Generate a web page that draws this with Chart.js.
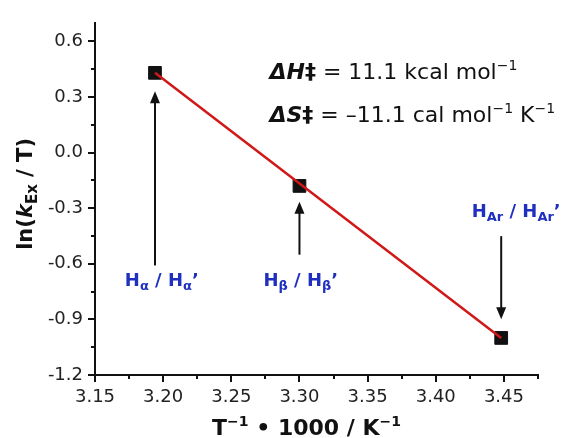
<!DOCTYPE html>
<html><head><meta charset="utf-8">
<script src="https://cdn.jsdelivr.net/npm/chart.js@4.4.1/dist/chart.umd.min.js"></script>
<style>html,body{margin:0;padding:0;background:#fff;}#wrap{width:570px;height:438px;}</style>
</head><body><div id="wrap"><canvas id="c" width="570" height="438"></canvas></div>
<script>
// ---- data ----
const invT = [3.194, 3.300, 3.448];          // T^-1 * 1000 / K^-1
const lnKT = [0.43, -0.18, -1.00];            // ln(kEx / T)
const fitInvT = [3.194, 3.448];               // fitted line ends
const fitLnKT = [0.43, -1.00];
const protonSubs = ['α', 'β', 'Ar'];          // H_x / H_x' labels
const xRange = [3.15, 3.475];
const yRange = [-1.2, 0.7];
const xStep = 0.025, xMajorStep = 0.05;
const yStep = 0.15, yMajorStep = 0.3;
const dH = '11.1', dS = '–11.1';

// ---- annotation placement (data units) ----
const arrowX = [3.194, 3.300, 3.448];
const arrowFrom = [-0.609, -0.551, -0.451];
const arrowTo = [0.331, -0.266, -0.899];
const labelX = [3.199, 3.301, 3.459];
const labelY = [-0.72, -0.72, -0.345];

const FAM = '"DejaVu Sans", "Liberation Sans", sans-serif';
const BLUE = '#1f2fc0';
const RED = '#d01818';
const INK = '#111';

function isMult(v, s) { const r = v / s; return Math.abs(r - Math.round(r)) < 1e-6; }

function drawRich(ctx, x, y, segs, align) {
  let w = 0;
  segs.forEach(s => { ctx.font = s.f; s.w = ctx.measureText(s.t).width; w += s.w; });
  let cx = align === 'center' ? x - w / 2 : x;
  ctx.textBaseline = 'alphabetic';
  ctx.textAlign = 'left';
  segs.forEach(s => { ctx.font = s.f; ctx.fillStyle = s.c || INK; ctx.fillText(s.t, cx, y + (s.dy || 0)); cx += s.w; });
}

const annot = {
  id: 'annot',
  afterDraw(chart) {
    const ctx = chart.ctx, xs = chart.scales.x, ys = chart.scales.y, ca = chart.chartArea;
    ctx.save();
    // tick marks
    ctx.strokeStyle = INK; ctx.lineWidth = 2;
    xs.ticks.forEach(t => {
      const px = Math.round(xs.getPixelForValue(t.value));
      const len = isMult(t.value, xMajorStep) ? 7 : 4;
      ctx.beginPath(); ctx.moveTo(px, ca.bottom); ctx.lineTo(px, ca.bottom + len); ctx.stroke();
    });
    ys.ticks.forEach(t => {
      const py = Math.round(ys.getPixelForValue(t.value));
      const len = isMult(t.value, yMajorStep) ? 7 : 4;
      ctx.beginPath(); ctx.moveTo(ca.left, py); ctx.lineTo(ca.left - len, py); ctx.stroke();
    });
    // arrows
    arrowX.forEach((xv, i) => {
      const px = xs.getPixelForValue(xv);
      const y0 = ys.getPixelForValue(arrowFrom[i]);
      const y1 = ys.getPixelForValue(arrowTo[i]);
      const dir = y1 < y0 ? -1 : 1;
      const head = 12;
      ctx.strokeStyle = INK; ctx.lineWidth = 2;
      ctx.beginPath(); ctx.moveTo(px, y0); ctx.lineTo(px, y1 - dir * head + dir * 2); ctx.stroke();
      ctx.fillStyle = INK;
      ctx.beginPath(); ctx.moveTo(px, y1); ctx.lineTo(px - 5, y1 - dir * head); ctx.lineTo(px + 5, y1 - dir * head); ctx.closePath(); ctx.fill();
    });
    // proton labels
    const bf = 'bold 18px ' + FAM, sf = 'bold 13px ' + FAM;
    protonSubs.forEach((s, i) => {
      drawRich(ctx, xs.getPixelForValue(labelX[i]), ys.getPixelForValue(labelY[i]), [
        {t: 'H', f: bf, c: BLUE}, {t: s, f: sf, c: BLUE, dy: 4},
        {t: ' / H', f: bf, c: BLUE}, {t: s, f: sf, c: BLUE, dy: 4}, {t: '’', f: bf, c: BLUE}
      ], 'center');
    });
    // thermodynamic parameters
    const nf = '22px ' + FAM, bi = 'italic bold 22px ' + FAM, bb = 'bold 22px ' + FAM, sup = '14px ' + FAM;
    const tx = xs.getPixelForValue(3.278);
    drawRich(ctx, tx, ys.getPixelForValue(0.399), [
      {t: 'ΔH', f: bi}, {t: '‡', f: bb}, {t: ' = ' + dH + ' kcal mol', f: nf}, {t: '−1', f: sup, dy: -9}
    ], 'left');
    drawRich(ctx, tx, ys.getPixelForValue(0.165), [
      {t: 'ΔS', f: bi}, {t: '‡', f: bb}, {t: ' = ' + dS + ' cal mol', f: nf}, {t: '−1', f: sup, dy: -9},
      {t: ' K', f: nf}, {t: '−1', f: sup, dy: -9}
    ], 'left');
    // axis titles
    const tb = 'bold 22px ' + FAM, tsup = 'bold 14px ' + FAM;
    drawRich(ctx, (ca.left + ca.right) / 2 - 10, 435, [
      {t: 'T', f: tb}, {t: '−1', f: tsup, dy: -9}, {t: ' • 1000 / K', f: tb}, {t: '−1', f: tsup, dy: -9}
    ], 'center');
    ctx.translate(32, (ca.top + ca.bottom) / 2 - 5);
    ctx.rotate(-Math.PI / 2);
    const yb = 'bold 21px ' + FAM;
    drawRich(ctx, 0, 0, [
      {t: 'ln(', f: yb}, {t: 'k', f: 'italic bold 21px ' + FAM}, {t: 'Ex', f: 'bold 15px ' + FAM, dy: 5}, {t: ' / T)', f: yb}
    ], 'center');
    ctx.restore();
  }
};

new Chart(document.getElementById('c'), {
  type: 'scatter',
  data: {
    datasets: [
      {
        data: fitInvT.map((x, i) => ({x, y: fitLnKT[i]})),
        showLine: true, borderColor: RED, borderWidth: 2.5, pointRadius: 0, order: 0
      },
      {
        data: invT.map((x, i) => ({x, y: lnKT[i]})),
        showLine: false, pointStyle: 'rect', pointRadius: 9,
        backgroundColor: INK, borderColor: INK, borderWidth: 1, order: 1
      }
    ]
  },
  options: {
    responsive: false, animation: false,
    layout: {padding: {left: 0, right: 32, top: 15, bottom: 0}},
    plugins: {legend: {display: false}, tooltip: {enabled: false}},
    scales: {
      x: {
        type: 'linear', min: xRange[0], max: xRange[1], bounds: 'data',
        afterFit: s => { s.height = 63; },
        afterBuildTicks: s => { s.ticks = s.ticks.filter(t => isMult(t.value, xStep)); },
        grid: {drawOnChartArea: false, drawTicks: false},
        border: {display: true, color: INK, width: 2},
        ticks: {stepSize: xStep, autoSkip: false, maxRotation: 0, minRotation: 0, padding: 12,
          color: '#222', font: {family: FAM, size: 18},
          callback: v => isMult(v, xMajorStep) ? v.toFixed(2) : ''}
      },
      y: {
        type: 'linear', min: yRange[0], max: yRange[1], bounds: 'data',
        afterFit: s => { s.width = 95; },
        afterBuildTicks: s => { s.ticks = s.ticks.filter(t => isMult(t.value, yStep)); },
        grid: {drawOnChartArea: false, drawTicks: false},
        border: {display: true, color: INK, width: 2},
        ticks: {stepSize: yStep, autoSkip: false, padding: 12,
          color: '#222', font: {family: FAM, size: 18},
          callback: v => isMult(v, yMajorStep) ? v.toFixed(1) : ''}
      }
    }
  },
  plugins: [annot]
});
</script>
</body></html>
